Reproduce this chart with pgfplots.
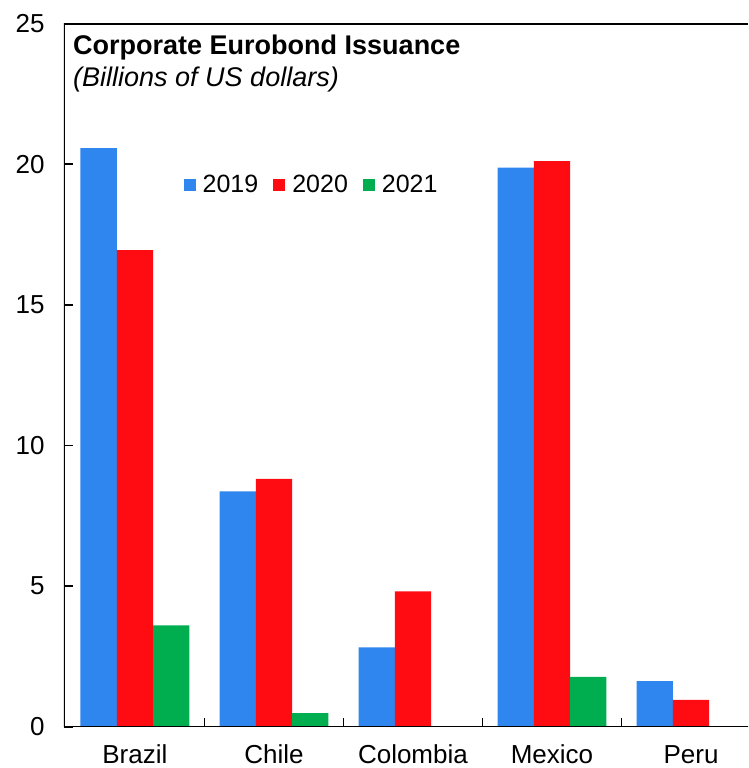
\documentclass[border=0pt]{standalone}
\usepackage{fontspec}
\setmainfont{Liberation Sans}
\usepackage{pgfplots}
\pgfplotsset{compat=1.18}
\definecolor{cblue}{RGB}{46,134,238}
\definecolor{cred}{RGB}{255,12,18}
\definecolor{cgreen}{RGB}{0,174,80}
\begin{document}
\begin{tikzpicture}
\begin{axis}[
  scale only axis, width=684pt, height=703.2pt,
  xmin=-0.51, xmax=4.41, ymin=0, ymax=25,
  ybar=0pt, bar width=0.261,
  separate axis lines,
  axis line style={draw=none},
  xtick pos=bottom, ytick pos=left,
  tick align=inside,
  major tick length=8.5pt,
  tick style={black, line width=1.8pt},
  xtick={0.5,1.5,2.5,3.5}, xticklabels={},
  extra x ticks={0,1,2,3,4},
  extra x tick labels={Brazil,Chile,Colombia,Mexico,Peru},
  extra x tick style={major tick length=0pt, tick style={draw=none}},
  xticklabel style={font=\fontsize{26}{31}\selectfont, anchor=base, inner sep=0pt, yshift=-37pt},
  ytick={0,5,...,25},
  yticklabel style={font=\fontsize{26}{31}\selectfont, xshift=-16pt},
  /pgf/number format/assume math mode=true,
  legend columns=3,
  legend style={draw=none, fill=none, at={(0.362,0.771)}, anchor=center,
    font=\fontsize{25}{30}\selectfont,
    /tikz/every odd column/.append style={column sep=5pt},
    /tikz/every even column/.append style={column sep=13pt}},
  legend image code/.code={\fill[#1,draw=none] (0pt,-6pt) rectangle (12pt,6pt);},
]
\addplot[fill=cblue, draw=none] coordinates {(0,20.57) (1,8.37) (2,2.82) (3,19.88) (4,1.62)};
\addplot[fill=cred, draw=none] coordinates {(0,16.94) (1,8.81) (2,4.81) (3,20.11) (4,0.95)};
\addplot[fill=cgreen, draw=none] coordinates {(0,3.60) (1,0.48) (2,0) (3,1.77) (4,0)};
\legend{2019,2020,2021}
\draw[black, line width=2.2pt] (rel axis cs:0,1) -- (rel axis cs:1,1);
\draw[black, line width=2.2pt, line cap=rect] (rel axis cs:0,1) -- (rel axis cs:0,0) -- (rel axis cs:1,0);
\node[anchor=base west, inner sep=0pt, font=\fontsize{27}{32}\selectfont\bfseries] at (rel axis cs:0.0132,0.9555) {Corporate Eurobond Issuance};
\node[anchor=base west, inner sep=0pt, font=\fontsize{27}{32}\selectfont\itshape] at (rel axis cs:0.0132,0.910) {(Billions of US dollars)};
\end{axis}
\pgfresetboundingbox
\path[use as bounding box] ([xshift=-64pt,yshift=-41.3pt]current axis.south west) rectangle ([yshift=23.5pt]current axis.north east);
\end{tikzpicture}
\end{document}
